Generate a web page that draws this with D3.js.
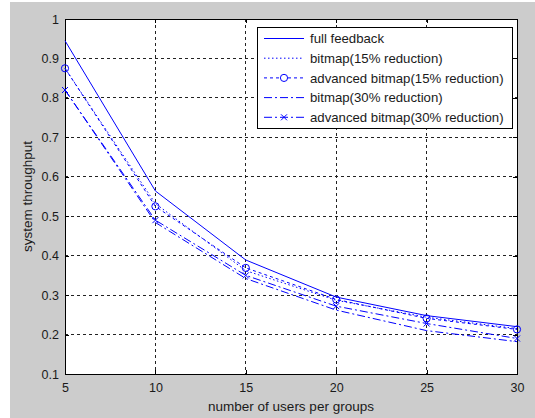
<!DOCTYPE html>
<html><head><meta charset="utf-8">
<script src="https://cdn.jsdelivr.net/npm/d3@7"></script>
<style>
html,body{margin:0;padding:0;background:#fff;}
svg{display:block;font-family:"Liberation Sans",Arial,sans-serif;}
</style></head>
<body>
<svg id="chart" width="535" height="418"></svg>
<script>
const users = [5, 10, 15, 20, 25, 30];
const fullFeedback = [0.945, 0.564, 0.389, 0.295, 0.248, 0.220];
const bitmap15 = [0.875, 0.532, 0.362, 0.287, 0.244, 0.215];
const advBitmap15 = [0.875, 0.525, 0.369, 0.289, 0.241, 0.213];
const bitmap30 = [0.820, 0.484, 0.342, 0.262, 0.210, 0.182];
const advBitmap30 = [0.820, 0.490, 0.350, 0.272, 0.228, 0.190];
const seriesNames = ["full feedback", "bitmap(15% reduction)", "advanced bitmap(15% reduction)", "bitmap(30% reduction)", "advanced bitmap(30% reduction)"];
const xTicks = [5, 10, 15, 20, 25, 30];
const yTicks = [0.1, 0.2, 0.3, 0.4, 0.5, 0.6, 0.7, 0.8, 0.9, 1];
const xLabel = "number of users per groups";
const yLabel = "system throughput";

(function () {
const series = [
  {name: seriesNames[0], values: fullFeedback, dash: null, marker: null},
  {name: seriesNames[1], values: bitmap15, dash: "1.5,2.5", marker: null},
  {name: seriesNames[2], values: advBitmap15, dash: "3,3", marker: "circle"},
  {name: seriesNames[3], values: bitmap30, dash: "8,3,2,3", marker: null},
  {name: seriesNames[4], values: advBitmap30, dash: "8,3,2,3", marker: "x"}
];

const svg = d3.select("#chart");
const W = 535, H = 418;
const pL = 65, pR = 517, pT = 19, pB = 374;
const blue = "#0000ff";
const ink = "#1a1a1a";

svg.append("rect").attr("x", 10).attr("y", 2).attr("width", W - 10).attr("height", H - 2).attr("fill", "#cccccc");

const x = d3.scaleLinear().domain([5, 30]).range([pL, pR]);
const y = d3.scaleLinear().domain([0.1, 1]).range([pB, pT]);

svg.append("rect").attr("x", pL).attr("y", pT).attr("width", pR - pL).attr("height", pB - pT).attr("fill", "#fff");

// grid
const grid = svg.append("g");
grid.selectAll("line.vx").data(xTicks.slice(1, -1)).enter().append("line")
  .attr("x1", d => x(d)).attr("x2", d => x(d)).attr("y1", pT).attr("y2", pB)
  .attr("stroke", "#222").attr("stroke-width", 1).attr("stroke-dasharray", "3,3")
  .attr("shape-rendering", "crispEdges");
grid.selectAll("line.hy").data(yTicks.slice(1, -1)).enter().append("line")
  .attr("y1", d => y(d)).attr("y2", d => y(d)).attr("x1", pL).attr("x2", pR)
  .attr("stroke", "#222").attr("stroke-width", 1).attr("stroke-dasharray", "3,3")
  .attr("shape-rendering", "crispEdges");

// axes
const fmt = d => String(+d.toFixed(1));
const axB = svg.append("g").attr("transform", `translate(0,${pB})`)
  .call(d3.axisBottom(x).tickValues(xTicks).tickSize(-4).tickPadding(9).tickFormat(d => d));
const axL = svg.append("g").attr("transform", `translate(${pL},0)`)
  .call(d3.axisLeft(y).tickValues(yTicks).tickSize(-4).tickPadding(6).tickFormat(fmt));
const axT = svg.append("g").attr("transform", `translate(0,${pT})`)
  .call(d3.axisTop(x).tickValues(xTicks).tickSize(-4).tickFormat(""));
const axR = svg.append("g").attr("transform", `translate(${pR},0)`)
  .call(d3.axisRight(y).tickValues(yTicks).tickSize(-4).tickFormat(""));
[axB, axL, axT, axR].forEach(a => {
  a.select(".domain").attr("stroke", "#000").attr("shape-rendering", "crispEdges");
  a.selectAll(".tick line").attr("stroke", "#000").attr("shape-rendering", "crispEdges");
  a.selectAll("text").attr("fill", ink).style("font-size", "12.5px")
    .style("font-family", "'Liberation Sans', Arial, sans-serif");
});

// lines
const lineGen = d3.line().x((d, i) => x(users[i])).y(d => y(d));
const plot = svg.append("g");
series.forEach(s => {
  plot.append("path").attr("d", lineGen(s.values)).attr("fill", "none")
    .attr("stroke", blue).attr("stroke-width", 1)
    .attr("stroke-dasharray", s.dash);
  if (s.marker === "circle") {
    plot.selectAll(null).data(s.values).enter().append("circle")
      .attr("cx", (d, i) => x(users[i])).attr("cy", d => y(d)).attr("r", 3.6)
      .attr("fill", "none").attr("stroke", blue).attr("stroke-width", 1);
  } else if (s.marker === "x") {
    plot.selectAll(null).data(s.values).enter().append("path")
      .attr("d", (d, i) => {
        const cx = x(users[i]), cy = y(d), r = 3;
        return `M${cx - r},${cy - r}L${cx + r},${cy + r}M${cx - r},${cy + r}L${cx + r},${cy - r}`;
      })
      .attr("fill", "none").attr("stroke", blue).attr("stroke-width", 1);
  }
});

// axis labels
svg.append("text").attr("x", (pL + pR) / 2).attr("y", 411).attr("text-anchor", "middle")
  .attr("fill", ink).style("font-size", "13.5px").text(xLabel);
svg.append("text").attr("transform", `translate(32,${(pT + pB) / 2}) rotate(-90)`)
  .attr("text-anchor", "middle").attr("fill", ink).style("font-size", "13.5px").text(yLabel);

// legend
const lg = svg.append("g");
const lx = 257, ly = 27, lw = 255, lh = 101;
lg.append("rect").attr("x", lx).attr("y", ly).attr("width", lw).attr("height", lh)
  .attr("fill", "#fff").attr("stroke", "#000").attr("shape-rendering", "crispEdges");
series.forEach((s, i) => {
  const cy = 38.5 + i * 19.7;
  lg.append("line").attr("x1", 264).attr("x2", 304).attr("y1", cy).attr("y2", cy)
    .attr("stroke", blue).attr("stroke-width", 1).attr("stroke-dasharray", s.dash);
  if (s.marker === "circle") {
    lg.append("circle").attr("cx", 284).attr("cy", cy).attr("r", 3.6)
      .attr("fill", "#fff").attr("stroke", blue);
  } else if (s.marker === "x") {
    const r = 3;
    lg.append("path").attr("d", `M${284 - r},${cy - r}L${284 + r},${cy + r}M${284 - r},${cy + r}L${284 + r},${cy - r}`)
      .attr("stroke", blue).attr("fill", "none");
  }
  lg.append("text").attr("x", 310).attr("y", cy).attr("dy", "0.35em")
    .attr("fill", ink).style("font-size", "13.2px").text(s.name);
});
})();
</script>
</body></html>
